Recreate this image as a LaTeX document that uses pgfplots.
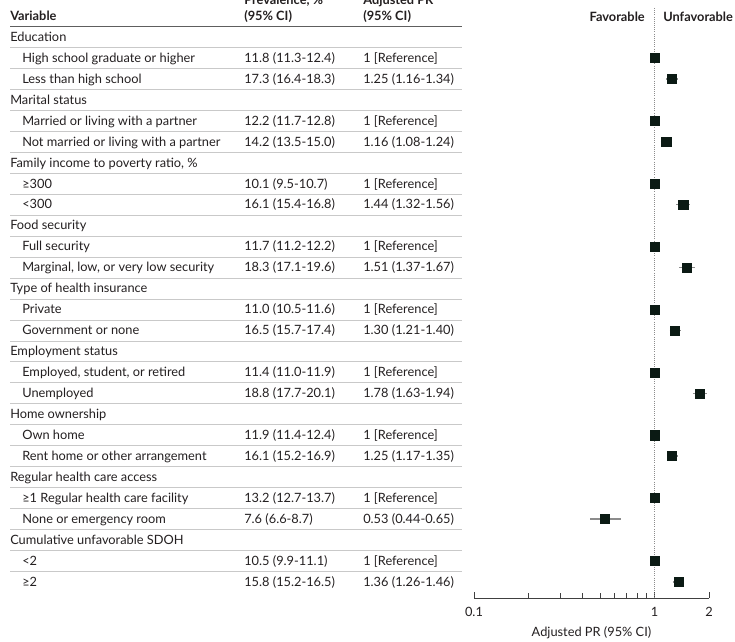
\documentclass[border=0pt]{standalone}
\usepackage{pgfplots}
\pgfplotsset{compat=1.18}
\usepackage{fontspec}
\setmainfont{Lato}
\definecolor{txt}{HTML}{231F20}
\definecolor{rulethin}{HTML}{C9C9C9}
\definecolor{rulethick}{HTML}{5E5E5E}
\definecolor{ci}{HTML}{8C8C8C}
\definecolor{sq}{HTML}{0B1A14}
\newcommand\fs{\fontsize{9.6}{11}\selectfont}
\begin{document}
\begin{tikzpicture}[font=\fs]
\begin{scope}[x=0.75pt,y=-0.75pt]
\useasboundingbox (0,0) rectangle (735,642);
\clip (0,0) rectangle (735,642);
\coordinate (axisSW) at (474,598);
\begin{scope}[every node/.style={text=txt, inner sep=0pt}]
% header
\node[anchor=base west, font=\fs\bfseries] at (244,4.3) {Prevalence, \%};
\node[anchor=base west, font=\fs\bfseries] at (363,4.3) {Adjusted PR};
\node[anchor=base west, font=\fs\bfseries] at (10,21) {Variable};
\node[anchor=base west, font=\fs\bfseries] at (244,21) {(95\% CI)};
\node[anchor=base west, font=\fs\bfseries] at (363,21) {(95\% CI)};
\node[anchor=base east, font=\fs\bfseries] at (645,21.3) {Favorable};
\node[anchor=base west, font=\fs\bfseries] at (663,21.3) {Unfavorable};
\draw[rulethick, line width=1.1pt] (10,26.5) -- (462,26.5);
\foreach \k in {1,...,26} {
  \draw[rulethin, line width=0.6pt] (10,{16.04+20.96*(\k+0.5)}) -- (462,{16.04+20.96*(\k+0.5)});
}
% group headings
\foreach \k/\t in {1/Education, 4/Marital status, 7/{Family income to poverty ratio, \%}, 10/Food security, 13/Type of health insurance, 16/Employment status, 19/Home ownership, 22/Regular health care access, 25/Cumulative unfavorable SDOH} {
  \node[anchor=base west] at (10,{16.04+20.96*\k+4.3}) {\t};
}
% sub rows
\foreach \k/\t/\p/\r in {
 2/High school graduate or higher/11.8 (11.3-12.4)/1 [Reference],
 3/Less than high school/17.3 (16.4-18.3)/1.25 (1.16-1.34),
 5/Married or living with a partner/12.2 (11.7-12.8)/1 [Reference],
 6/Not married or living with a partner/14.2 (13.5-15.0)/1.16 (1.08-1.24),
 8/≥300/10.1 (9.5-10.7)/1 [Reference],
 9/<300/16.1 (15.4-16.8)/1.44 (1.32-1.56),
 11/Full security/11.7 (11.2-12.2)/1 [Reference],
 12/{Marginal, low, or very low security}/18.3 (17.1-19.6)/1.51 (1.37-1.67),
 14/Private/11.0 (10.5-11.6)/1 [Reference],
 15/Government or none/16.5 (15.7-17.4)/1.30 (1.21-1.40),
 17/{Employed, student, or retired}/11.4 (11.0-11.9)/1 [Reference],
 18/Unemployed/18.8 (17.7-20.1)/1.78 (1.63-1.94),
 20/Own home/11.9 (11.4-12.4)/1 [Reference],
 21/Rent home or other arrangement/16.1 (15.2-16.9)/1.25 (1.17-1.35),
 23/≥1 Regular health care facility/13.2 (12.7-13.7)/1 [Reference],
 24/None or emergency room/7.6 (6.6-8.7)/0.53 (0.44-0.65),
 26/<2/10.5 (9.9-11.1)/1 [Reference],
 27/≥2/15.8 (15.2-16.5)/1.36 (1.26-1.46)} {
  \node[anchor=base west] at (22,{16.04+20.96*\k+4.3}) {\t};
  \node[anchor=base west] at (244,{16.04+20.96*\k+4.3}) {\p};
  \node[anchor=base west] at (363,{16.04+20.96*\k+4.3}) {\r};
}
\end{scope}
\end{scope}
\begin{axis}[
  at={(axisSW)}, anchor=south west,
  scale only axis, width=176.25pt, height=448.5pt,
  xmode=log, xmin=0.1, xmax=2,
  ymin=-27.765, ymax=0.7653,
  axis x line*=bottom, axis y line=none,
  axis line style={black!75, line width=0.6pt},
  xtick={0.1,1,2}, xticklabels={0.1,1,2},
  minor xtick={0.2,0.3,0.4,0.5,0.6,0.7,0.8,0.9},
  tick align=inside,
  major tick length=4.5pt, minor tick length=3.8pt,
  tick style={black!75, line width=0.6pt},
  /pgf/number format/assume math mode=true,
  xticklabel style={anchor=base, yshift=-13.7pt, inner sep=0pt, text=txt},
  xlabel={Adjusted PR (95\% CI)},
  xlabel style={at={(axis description cs:0.5,0)}, anchor=base, yshift=-28.7pt, inner sep=0pt, text=txt},
  clip=false,
]
\addplot[densely dotted, black!45, line width=0.6pt] coordinates {(1,0.384) (1,-27.765)};
\addplot[ci, line width=1.1pt] coordinates {(1.16,-3) (1.34,-3)};
\addplot[ci, line width=1.1pt] coordinates {(1.08,-6) (1.24,-6)};
\addplot[ci, line width=1.1pt] coordinates {(1.32,-9) (1.56,-9)};
\addplot[ci, line width=1.1pt] coordinates {(1.37,-12) (1.67,-12)};
\addplot[ci, line width=1.1pt] coordinates {(1.21,-15) (1.40,-15)};
\addplot[ci, line width=1.1pt] coordinates {(1.63,-18) (1.94,-18)};
\addplot[ci, line width=1.1pt] coordinates {(1.17,-21) (1.35,-21)};
\addplot[ci, line width=1.1pt] coordinates {(0.44,-24) (0.65,-24)};
\addplot[ci, line width=1.1pt] coordinates {(1.26,-27) (1.46,-27)};
\addplot[only marks, mark=square*, mark size=3.4pt, color=sq] coordinates {
 (1,-2) (1.25,-3) (1,-5) (1.16,-6) (1,-8) (1.44,-9) (1,-11) (1.51,-12)
 (1,-14) (1.30,-15) (1,-17) (1.78,-18) (1,-20) (1.25,-21) (1,-23) (0.53,-24)
 (1,-26) (1.36,-27)};
\end{axis}
\end{tikzpicture}
\end{document}
